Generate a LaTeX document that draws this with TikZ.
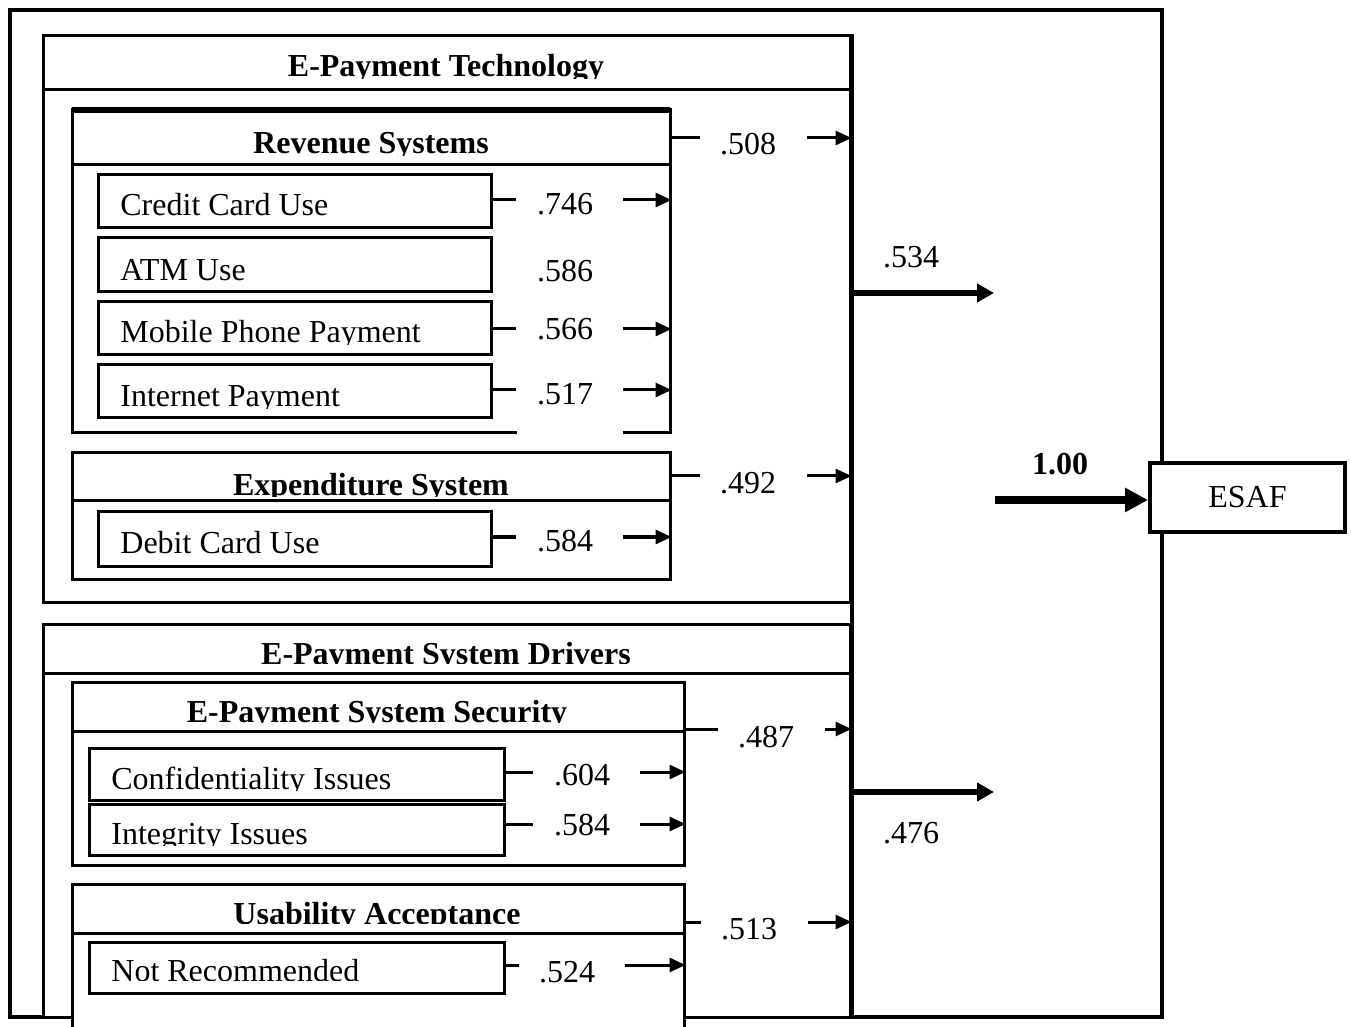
\documentclass[tikz,border=0pt]{standalone}
\usepackage{fontspec}
\setmainfont{Liberation Serif}
\usetikzlibrary{arrows.meta,fit}

% one connector: stub leaving a box, then an arrow into the enclosing box
% #1 source node, #2 target node, #3 y, #4 stub end x, #5 arrow start x, #6 name
\newcommand{\loadlink}[6]{%
  \coordinate (#6d) at (#4,#3);
  \coordinate (#6a) at (#5,#3);
  \draw[stub] (#1.east |- #6d) -- (#6d);
  \draw[arr] (#6a) -- (#6a -| #2.east);}

\begin{document}
\begin{tikzpicture}[x=0.5pt,y=-0.5pt,
  txt/.style={font=\fontsize{16}{19}\selectfont, inner sep=0pt},
  title/.style={txt, font=\fontsize{16}{19}\selectfont\bfseries, anchor=base},
  item/.style={txt, anchor=base west},
  num/.style={txt, anchor=base},
  frame/.style={draw, line width=1.5pt, fill=white, inner sep=0pt},
  sep/.style={line width=1.5pt},
  stub/.style={line width=1.5pt},
  arr/.style={line width=1.5pt, -{Triangle[length=8pt,width=7pt]}},
  bigarr/.style={line width=3pt, -{Triangle[length=8.5pt,width=9pt]}},
  hugearr/.style={line width=4pt, -{Triangle[length=11.5pt,width=11.5pt]}}]

\useasboundingbox (0,0) rectangle (1351,1027);
\clip (0,0) rectangle (1351,1027);
\fill[white] (0,0) rectangle (1351,1027);

% outer frame
\node[fit={(10,10) (1162,1017)}, draw, line width=2pt, inner sep=0pt] (outer) {};

% ---------- E-Payment Technology ----------
\node[frame, fit={(43,36) (850,602)}] (tech) {};
\draw[sep] (43,90) -- (850,90);
\begin{scope}
  \clip (45,38) rectangle (848,79);
  \node[title] (techT) at (446,77) {E-Payment Technology};
\end{scope}

% Revenue Systems
\node[frame, fit={(72,110) (670,433)}] (rev) {};
\draw[line width=3pt] (72,110) -- (670,110);
\draw[sep] (72,165) -- (670,165);
\fill[white] (517,430) rectangle (623,437);
\begin{scope}
  \clip (74,112) rectangle (668,156);
  \node[title] (revT) at (371,154) {Revenue Systems};
\end{scope}

\node[frame, fit={(98,175) (491,228)}] (cc) {};
\node[frame, fit={(98,238) (491,292)}] (atm) {};
\node[frame, fit={(98,302) (491,355)}] (mob) {};
\node[frame, fit={(98,365) (491,418)}] (inet) {};
\node[item] (ccT) at (120,216) {Credit Card Use};
\node[item] (atmT) at (120,281) {ATM Use};
\begin{scope}
  \clip (100,304) rectangle (489,345);
  \node[item] (mobT) at (120,343) {Mobile Phone Payment};
\end{scope}
\begin{scope}
  \clip (100,367) rectangle (489,409);
  \node[item] (inetT) at (120,407) {Internet Payment};
\end{scope}

\loadlink{cc}{rev}{200}{516}{623}{l746}
\loadlink{mob}{rev}{329}{516}{623}{l566}
\loadlink{inet}{rev}{390}{516}{623}{l517}
\node[num] (n746) at (565,215) {.746};
\node[num] (n586) at (565,282) {.586};
\node[num] (n566) at (565,340) {.566};
\node[num] (n517) at (565,405) {.517};

% Expenditure System
\node[frame, fit={(72,453) (670,579)}] (exps) {};
\draw[sep] (72,501) -- (670,501);
\begin{scope}
  \clip (74,455) rectangle (668,497);
  \node[title] (expT) at (371,495) {Expenditure System};
\end{scope}
\node[frame, fit={(98,512) (491,566)}] (debit) {};
\node[item] (debitT) at (120,553) {Debit Card Use};
\loadlink{debit}{exps}{537}{516}{623}{l584a}
\node[num] (n584a) at (565,552) {.584};

% subsystem loadings
\loadlink{rev}{tech}{138}{700}{807}{l508}
\loadlink{exps}{tech}{476}{700}{807}{l492}
\node[num] (n508) at (748,155) {.508};
\node[num] (n492) at (748,494) {.492};

% ---------- E-Payment System Drivers ----------
\node[frame, fit={(43,624) (850,1017)}] (drv) {};
\draw[sep] (43,673) -- (850,673);
\begin{scope}
  \clip (45,626) rectangle (848,663);
  \node[title] (drvT) at (446,664) {E-Payment System Drivers};
\end{scope}

% E-Payment System Security
\node[frame, fit={(72,682) (684,865)}] (sec) {};
\draw[sep] (72,731) -- (684,731);
\begin{scope}
  \clip (74,684) rectangle (682,722);
  \node[title] (secT) at (377,722) {E-Payment System Security};
\end{scope}
\node[frame, fit={(89,748) (504,800)}] (conf) {};
\node[frame, fit={(89,804) (504,855)}] (integ) {};
\begin{scope}
  \clip (91,750) rectangle (502,790);
  \node[item] (confT) at (111,789) {Confidentiality Issues};
\end{scope}
\begin{scope}
  \clip (91,806) rectangle (502,845);
  \node[item] (integT) at (111,844) {Integrity Issues};
\end{scope}
\loadlink{conf}{sec}{772}{533}{640}{l604}
\loadlink{integ}{sec}{824}{533}{640}{l584b}
\node[num] (n604) at (582,785) {.604};
\node[num] (n584b) at (582,835) {.584};

% Usability Acceptance
\node[frame, fit={(72,884) (684,1050)}] (usab) {};
\draw[sep] (72,933) -- (684,933);
\begin{scope}
  \clip (74,886) rectangle (682,923);
  \node[title] (usabT) at (377,924) {Usability Acceptance};
\end{scope}
\node[frame, fit={(89,942) (504,993)}] (notrec) {};
\begin{scope}
  \clip (91,944) rectangle (502,980.5);
  \node[item] (notrecT) at (111,981) {Not Recommended};
\end{scope}
\loadlink{notrec}{usab}{965}{519}{625}{l524}
\node[num] (n524) at (567,982) {.524};

\loadlink{sec}{drv}{729}{718}{825}{l487}
\loadlink{usab}{drv}{922}{701}{808}{l513}
\node[num] (n487) at (766,747) {.487};
\node[num] (n513) at (749,939) {.513};

% shared right edge of the two blocks
\draw[line width=2pt] (tech.north east) -- (drv.south east);

% block loadings
\coordinate (t534) at (994,293);
\coordinate (t476) at (994,792);
\draw[bigarr] (t534 -| tech.east) -- (t534);
\draw[bigarr] (t476 -| drv.east) -- (t476);
\node[num] (n534) at (911,268) {.534};
\node[num] (n476) at (911,843) {.476};

% outcome
\node[fit={(1150,463) (1345,532)}, draw, line width=2pt, fill=white, inner sep=0pt] (esaf) {};
\node[txt] (esafT) at (esaf.center) {ESAF};
\coordinate (s100) at (995,500);
\draw[hugearr] (s100) -- (s100 -| esaf.west);
\node[num, font=\fontsize{16}{19}\selectfont\bfseries] (n100) at (1060,474) {1.00};

\end{tikzpicture}
\end{document}
